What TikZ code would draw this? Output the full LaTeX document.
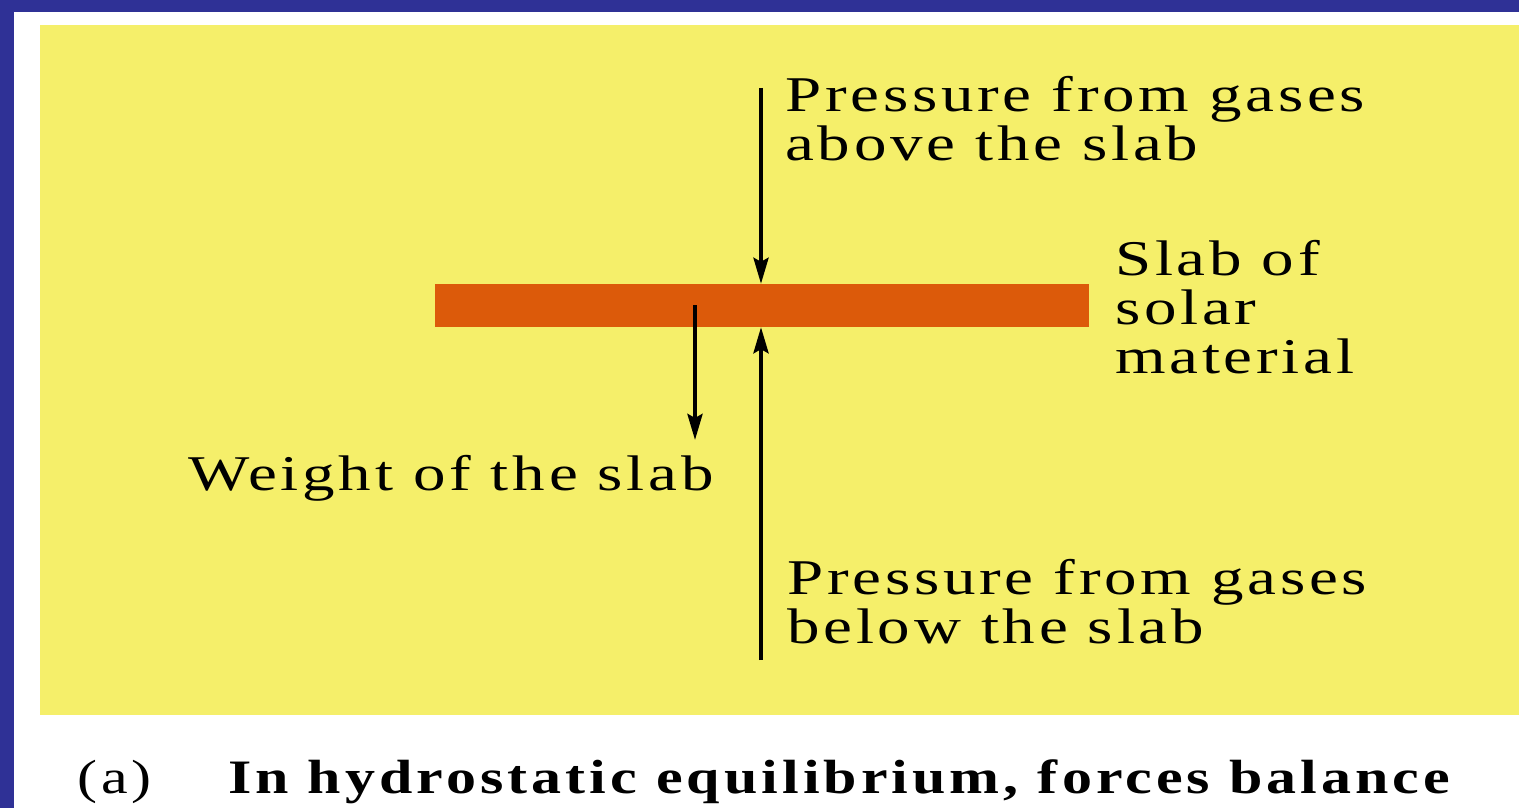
\documentclass[tikz,border=0pt]{standalone}
\usepackage{fontspec}
\setmainfont{Liberation Serif}
\newfontfamily\lblfont[FakeStretch=1.3,LetterSpace=7.5]{Liberation Serif}
\newfontfamily\capfont[FakeStretch=1.25,LetterSpace=8.4]{Liberation Serif}
\usetikzlibrary{arrows.meta}
\definecolor{frameblue}{HTML}{2F3196}
\definecolor{panelyellow}{HTML}{F5EF6A}
\definecolor{slaborange}{HTML}{DC5A0A}
\tikzset{
  lbl/.style={anchor=base west, inner sep=0pt, align=left, font=\lblfont\fontsize{50}{49}\selectfont},
  force/.style={line width=4pt, -{Stealth[length=26pt,width=15pt,inset=4pt]}},
}
\begin{document}
\begin{tikzpicture}[x=1pt,y=-1pt]
\useasboundingbox (0,0) rectangle (1519,808);
\fill[frameblue] (0,0) rectangle (1519,808);
\fill[white] (14,12) rectangle (1519,808);
\fill[panelyellow] (40,25) rectangle (1519,715);
\node[fill=slaborange, minimum width=654pt, minimum height=43pt, inner sep=0pt] (slab) at (762,305.5) {};
\coordinate (topstart) at (761,88);
\coordinate (botstart) at (761,660);
\coordinate (wstart) at (695,305);
\coordinate (wend) at (695,440);
\draw[force] (topstart) -- (topstart |- slab.north);
\draw[force] (botstart) -- (botstart |- slab.south);
\draw[force] (wstart) -- (wend);
% anchors are at the baseline of the last line
\node[lbl] (above) at (785,160) {Pressure from gases\\above the slab};
\node[lbl] (slabtxt) at (1115,373) {Slab of\\solar\\material};
\node[lbl] (weight) at (188,490) {Weight of the slab};
\node[lbl] (below) at (787,643) {Pressure from gases\\below the slab};
\node[anchor=base west, inner sep=0pt, font=\capfont\fontsize{48}{50}\selectfont] (cap) at (77,793) {(a)};
\node[anchor=base west, inner sep=0pt, font=\capfont\bfseries\fontsize{48}{50}\selectfont] (captxt) at (228,793) {In hydrostatic equilibrium, forces balance};
\end{tikzpicture}
\end{document}
